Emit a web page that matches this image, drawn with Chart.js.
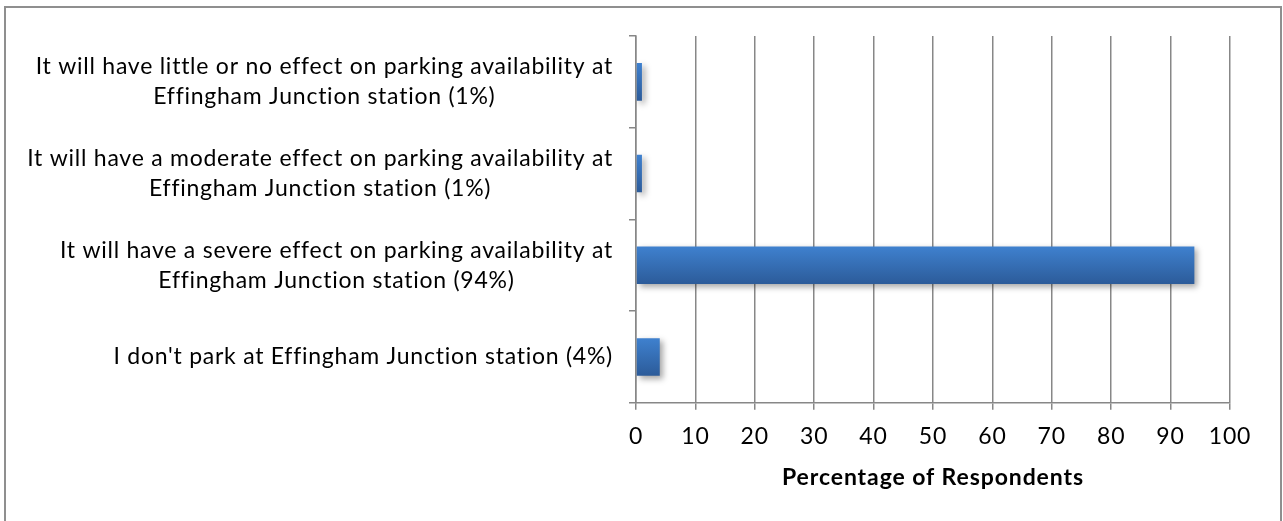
<!DOCTYPE html>
<html>
<head>
<meta charset="utf-8">
<script src="https://cdn.jsdelivr.net/npm/chart.js@4"></script>
<style>
  html, body { margin: 0; padding: 0; background: #fff; overflow: hidden; }
  #wrap { position: absolute; left: 0; top: 0; width: 1283px; height: 521px; }
  #frame {
    position: absolute; left: 4px; top: 6px; width: 1274px; height: 540px;
    border: 2px solid #8f8f8f; pointer-events: none;
  }
</style>
</head>
<body>
<div id="wrap"><canvas id="chart"></canvas></div>
<div id="frame"></div>
<script>
/* global Chart */
(() => {
  // Categories, top to bottom; each entry holds the lines of its label.
  const CATEGORIES = [
    ["It will have little or no effect on parking availability at", "Effingham Junction station (1%)"],
    ["It will have a moderate effect on parking availability at", "Effingham Junction station (1%)"],
    ["It will have a severe effect on parking availability at", "Effingham Junction station (94%)"],
    ["I don't park at Effingham Junction station (4%)"],
  ];
  const PERCENTAGES = [1, 1, 94, 4];
  const X_TICKS = [0, 10, 20, 30, 40, 50, 60, 70, 80, 90, 100];
  const X_TITLE = "Percentage of Respondents";

  const FONT = "Lato";
  const AXIS_GRAY = "#878787";
  const BAR_TOP = "#3f81cf";
  const BAR_BOTTOM = "#2c5b99";

  // Excel-style bar fill: lighter on top, darker at the bottom.
  function barFill(context) {
    const chart = context.chart;
    const y = chart.scales.y;
    if (!chart.chartArea || !y) return BAR_BOTTOM;
    const mid = y.getPixelForValue(context.dataIndex);
    const half = 19;
    const g = chart.ctx.createLinearGradient(0, mid - half, 0, mid + half);
    g.addColorStop(0, BAR_TOP);
    g.addColorStop(1, BAR_BOTTOM);
    return g;
  }

  // The original text is set a little looser than Lato's default spacing.
  const looseText = {
    id: "looseText",
    beforeDraw(chart) {
      chart.ctx.letterSpacing = "0.9px";
    },
  };

  // Soft drop shadow under the bars.
  const barShadow = {
    id: "barShadow",
    beforeDatasetsDraw(chart) {
      const ctx = chart.ctx;
      ctx.save();
      ctx.shadowColor = "rgba(0,0,0,0.35)";
      ctx.shadowBlur = 6;
      ctx.shadowOffsetX = 3;
      ctx.shadowOffsetY = 3;
    },
    afterDatasetsDraw(chart) {
      chart.ctx.restore();
    },
  };

  // Category labels: each block right-aligned, its lines centred within it.
  const blockLabels = {
    id: "blockLabels",
    afterDraw(chart) {
      const ctx = chart.ctx;
      const y = chart.scales.y;
      const right = y.right - 23;
      const lineGap = 30;
      ctx.save();
      ctx.font = `23px ${FONT}`;
      ctx.letterSpacing = "0.75px";
      ctx.fillStyle = "#000";
      ctx.textAlign = "center";
      ctx.textBaseline = "middle";
      CATEGORIES.forEach((lines, i) => {
        const widest = Math.max(...lines.map((l) => ctx.measureText(l).width));
        const cx = right - widest / 2;
        const cy = y.getPixelForValue(i);
        lines.forEach((line, k) => {
          ctx.fillText(line, cx, cy + (k - (lines.length - 1) / 2) * lineGap);
        });
      });
      ctx.restore();
    },
  };

  new Chart(document.getElementById("chart"), {
    type: "bar",
    data: {
      labels: CATEGORIES,
      datasets: [
        {
          data: PERCENTAGES,
          backgroundColor: barFill,
          borderWidth: 0,
          barPercentage: 0.41,
          categoryPercentage: 1,
        },
      ],
    },
    options: {
      indexAxis: "y",
      responsive: true,
      maintainAspectRatio: false,
      animation: false,
      layout: { padding: { top: 36, right: 53, bottom: 30, left: 0 } },
      plugins: {
        legend: { display: false },
        tooltip: { enabled: false },
      },
      scales: {
        x: {
          min: X_TICKS[0],
          max: X_TICKS[X_TICKS.length - 1],
          afterBuildTicks: (scale) => {
            scale.ticks = X_TICKS.map((v) => ({ value: v }));
          },
          afterFit: (scale) => {
            scale.paddingLeft = 0;
            scale.paddingRight = 0;
          },
          grid: {
            color: AXIS_GRAY,
            lineWidth: 1.5,
            tickLength: 7,
            drawOnChartArea: true,
          },
          border: { display: true, color: AXIS_GRAY, width: 1.5 },
          ticks: {
            color: "#000",
            padding: 13,
            maxRotation: 0,
            autoSkip: false,
            font: { family: FONT, size: 23 },
          },
          title: {
            display: true,
            text: X_TITLE,
            color: "#000",
            padding: { top: 0, bottom: 0 },
            font: { family: FONT, size: 23, weight: "bold" },
          },
        },
        y: {
          afterFit: (scale) => {
            scale.width = 636;
          },
          grid: {
            color: AXIS_GRAY,
            lineWidth: 1.5,
            tickLength: 7,
            drawOnChartArea: false,
            offset: true,
          },
          border: { display: true, color: AXIS_GRAY, width: 1.5 },
          ticks: { display: false },
        },
      },
    },
    plugins: [looseText, barShadow, blockLabels],
  });
})();
</script>
</body>
</html>
